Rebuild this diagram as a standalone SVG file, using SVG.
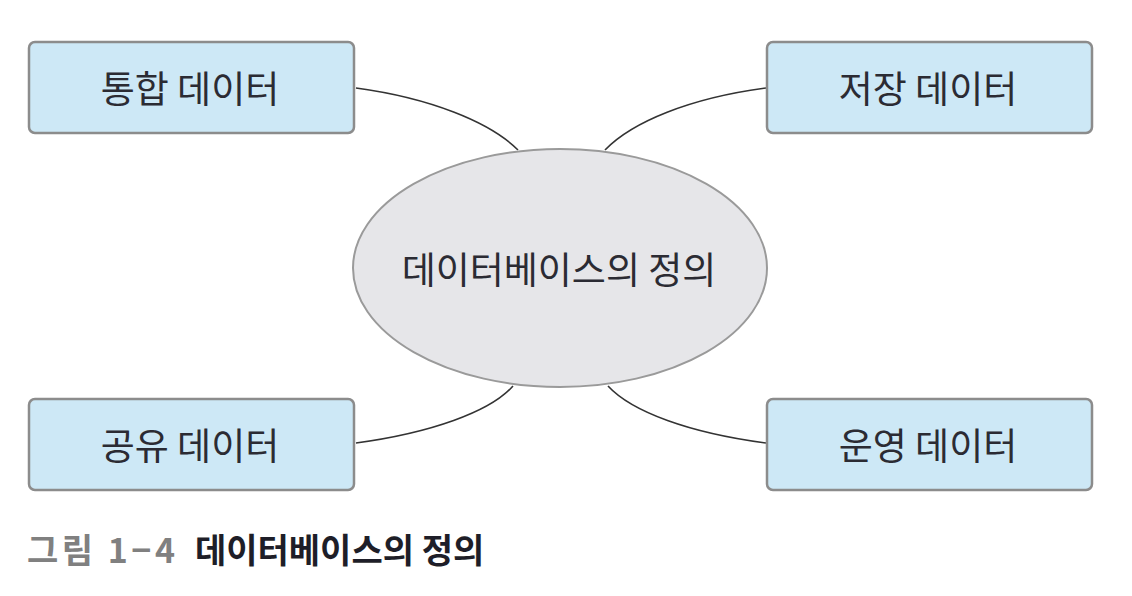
<svg xmlns="http://www.w3.org/2000/svg" width="1132" height="596" viewBox="0 0 1132 596">
<style>
.box{fill:#cde8f6;stroke:#8c8c8c;stroke-width:2.5}
.lbl{font-family:"Noto Sans CJK KR","Noto Sans",sans-serif;font-size:37px;fill:#2b2b33;text-anchor:middle}
.con{fill:none;stroke:#333;stroke-width:1.6}
.cap{font-family:"Noto Sans CJK KR","Noto Sans",sans-serif;font-size:34px;font-weight:bold}
</style>
<rect width="1132" height="596" fill="#fff"/>
<g id="connectors">
<path class="con" d="M356,88 C430,98 490,122 518,150"/>
<path class="con" d="M766,88 C690,98 632,122 605,150"/>
<path class="con" d="M356,443 C430,433 490,412 513,386"/>
<path class="con" d="M766,443 C690,433 632,412 608,386"/>
</g>
<g id="center">
<ellipse cx="560" cy="268" rx="207" ry="119" fill="#e6e6e9" stroke="#9a9a9a" stroke-width="2"/>
<text class="lbl" x="559" y="284" font-size="36.5">데이터베이스의 정의</text>
</g>
<g id="n1">
<rect class="box" x="29" y="42" width="325" height="91" rx="6"/>
<text class="lbl" x="190" y="103">통합 데이터</text>
</g>
<g id="n2">
<rect class="box" x="767" y="42" width="325" height="91" rx="6"/>
<text class="lbl" x="928" y="103">저장 데이터</text>
</g>
<g id="n3">
<rect class="box" x="29" y="399" width="325" height="91" rx="6"/>
<text class="lbl" x="190" y="460">공유 데이터</text>
</g>
<g id="n4">
<rect class="box" x="767" y="399" width="325" height="91" rx="6"/>
<text class="lbl" x="928" y="460">운영 데이터</text>
</g>
<g id="caption">
<text class="cap" x="27" y="563"><tspan fill="#808080" letter-spacing="3.5">그림 1−4</tspan><tspan fill="#1e1e28" x="195">데이터베이스의 정의</tspan></text>
</g>
</svg>
